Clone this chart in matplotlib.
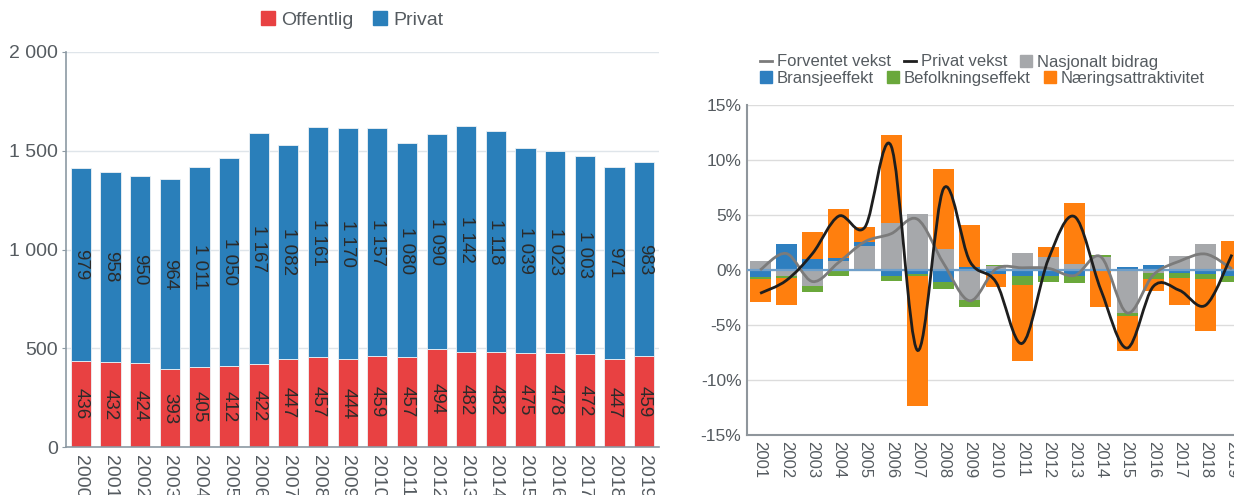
import numpy as np
import matplotlib
matplotlib.use("Agg")
import matplotlib.pyplot as plt
from matplotlib.path import Path
from matplotlib.patches import PathPatch, Patch
from matplotlib.lines import Line2D

plt.rcParams['font.family'] = ['Liberation Sans', 'DejaVu Sans']

# left chart: employment, public / private
years_left  = list(range(2000, 2020))
offentlig   = [436, 432, 424, 393, 405, 412, 422, 447, 457, 444,
               459, 457, 494, 482, 482, 475, 478, 472, 447, 459]
privat      = [979, 958, 950, 964, 1011, 1050, 1167, 1082, 1161, 1170,
               1157, 1080, 1090, 1142, 1118, 1039, 1023, 1003, 971, 983]

# right chart: growth decomposition (%)
years_right = list(range(2001, 2020))
nasjonalt   = [0.82, -0.55, -1.42, 0.85, 2.18, 4.3, 5.06, 1.88, -2.73, 0.38,
               1.58, 1.2, 0.55, 1.2, -3.94, -0.25, 1.3, 2.33, 0.1]
bransje     = [-0.67, 2.33, 0.97, 0.2, 0.36, -0.5, -0.36, -1.12, 0.3, -0.4,
               -0.55, -0.55, -0.55, -0.1, 0.3, 0.42, -0.25, -0.36, -0.55]
befolkning  = [-0.15, -0.2, -0.55, -0.55, 0.0, -0.5, -0.15, -0.6, -0.6, 0.12,
               -0.82, -0.5, -0.6, 0.15, -0.25, -0.6, -0.5, -0.5, -0.5]
naering     = [-2.12, -2.45, 2.5, 4.5, 1.33, 7.97, -11.85, 7.27, 3.8, -1.1,
               -6.9, 0.85, 5.5, -3.23, -3.2, -1.03, -2.45, -4.67, 2.5]
forventet   = [0.0, 1.5, -1.05, 0.7, 2.58, 3.3, 4.62, 0.6, -2.8, 0.1,
               0.2, 0.15, -0.5, 1.2, -3.9, -0.45, 0.8, 1.45, 0.1]
privat_vekst = [-2.12, -0.95, 1.5, 4.9, 3.9, 11.27, -7.3, 7.4, 0.8, -1.1,
                -6.67, 1.0, 4.85, -1.8, -7.1, -1.5, -1.85, -3.2, 1.4]

RED     = '#e84142'
BLUE_L  = '#2a7fba'
GREY_B  = '#a6a8ab'
BLUE_R  = '#2e7fc0'
GREEN   = '#6aa83b'
ORANGE  = '#ff7f0e'
TXT     = '#555b60'


def fmt_thousands(v):
    return "{:,}".format(int(v)).replace(",", " ")


def smooth_path(x, y, t=1.0 / 6):
    # catmull-rom through the points, as bezier segments
    pts = np.column_stack([x, y]).astype(float)
    verts = [pts[0]]
    codes = [Path.MOVETO]
    n = len(pts)
    for i in range(n - 1):
        p0 = pts[i - 1] if i > 0 else pts[i]
        p1 = pts[i]
        p2 = pts[i + 1]
        p3 = pts[i + 2] if i + 2 < n else pts[i + 1]
        c1 = p1 + (p2 - p0) * t
        c2 = p2 - (p3 - p1) * t
        verts += [c1, c2, p2]
        codes += [Path.CURVE4] * 3
    return Path(verts, codes)


fig = plt.figure(figsize=(12.34, 4.95), dpi=100)

# ---- left chart ----
ax1 = fig.add_axes([66 / 1234, 1 - 447 / 495, 593 / 1234, 395 / 495])
x = np.arange(len(years_left))
ax1.bar(x, offentlig, width=0.68, color=RED, edgecolor='#eef2f5', linewidth=0.6, zorder=2)
ax1.bar(x, privat, bottom=offentlig, width=0.68, color=BLUE_L, edgecolor='#eef2f5', linewidth=0.6, zorder=2)

for i in range(len(x)):
    ax1.text(x[i], offentlig[i] / 2, fmt_thousands(offentlig[i]), rotation=270,
             ha='center', va='center', fontsize=13.5, color='#2b2b2b', zorder=3)
    ax1.text(x[i], offentlig[i] + privat[i] / 2, fmt_thousands(privat[i]), rotation=270,
             ha='center', va='center', fontsize=13.5, color='#2b2b2b', zorder=3)

ax1.set_xlim(-0.5, len(x) - 0.5)
ax1.set_ylim(0, 2000)
ax1.set_yticks([0, 500, 1000, 1500, 2000])
ax1.set_yticklabels([fmt_thousands(v) for v in [0, 500, 1000, 1500, 2000]])
ax1.set_xticks(x)
ax1.set_xticklabels([str(y) for y in years_left], rotation=270)
ax1.tick_params(axis='x', length=0, pad=6, labelsize=14, labelcolor=TXT)
ax1.tick_params(axis='y', length=3, pad=3, labelsize=14, labelcolor=TXT, color='#8c99a3')
ax1.grid(axis='y', color='#dfe5ea', linewidth=1, zorder=0)
ax1.set_axisbelow(True)
for s in ['top', 'right']:
    ax1.spines[s].set_visible(False)
for s in ['left', 'bottom']:
    ax1.spines[s].set_color('#8c99a3')
    ax1.spines[s].set_linewidth(1.2)

fig.legend(handles=[Patch(color=RED), Patch(color=BLUE_L)], labels=['Offentlig', 'Privat'],
           loc='center', bbox_to_anchor=(352 / 1234, 1 - 20 / 495), ncol=2, frameon=False,
           fontsize=14, handlelength=0.75, handleheight=0.75, handletextpad=0.3,
           columnspacing=1.0, labelcolor=TXT, borderpad=0.1)

# ---- right chart ----
ax2 = fig.add_axes([747 / 1234, 1 - 435 / 495, 498 / 1234, 330 / 495])
xr = np.array(years_right)
pos = np.zeros(len(xr))
neg = np.zeros(len(xr))
for vals, col in [(nasjonalt, GREY_B), (bransje, BLUE_R), (befolkning, GREEN), (naering, ORANGE)]:
    vals = np.array(vals)
    bottoms = np.where(vals >= 0, pos, neg)
    ax2.bar(xr, vals, bottom=bottoms, width=0.8, color=col, zorder=2)
    pos += np.clip(vals, 0, None)
    neg += np.clip(vals, None, 0)

ax2.axhline(0, color='#6f9fca', linewidth=1.6, zorder=3)
ax2.add_patch(PathPatch(smooth_path(xr, forventet), facecolor='none', edgecolor='#7b7b7b',
                        linewidth=2, zorder=4))
ax2.add_patch(PathPatch(smooth_path(xr, privat_vekst), facecolor='none', edgecolor='#1e1e1e',
                        linewidth=2, zorder=5))

ax2.set_xlim(xr[0] - 0.5, xr[-1] + 0.5)
ax2.set_ylim(-15, 15)
ax2.set_yticks(range(-15, 16, 5))
ax2.set_yticklabels(["{}%".format(v) for v in range(-15, 16, 5)])
ax2.set_xticks(xr)
ax2.set_xticklabels([str(y) for y in years_right], rotation=270)
ax2.tick_params(axis='x', length=0, pad=4, labelsize=12, labelcolor=TXT)
ax2.tick_params(axis='y', length=0, pad=4, labelsize=12.5, labelcolor=TXT)
ax2.grid(axis='y', color='#dcdcdc', linewidth=1, zorder=0)
ax2.set_axisbelow(True)
for s in ['top', 'right']:
    ax2.spines[s].set_visible(False)
for s in ['left', 'bottom']:
    ax2.spines[s].set_color('#8f969c')
    ax2.spines[s].set_linewidth(1.5)

fig.legend(handles=[Line2D([], [], color='#7b7b7b', lw=2), Line2D([], [], color='#1e1e1e', lw=2),
                    Patch(color=GREY_B)],
           labels=['Forventet vekst', 'Privat vekst', 'Nasjonalt bidrag'],
           loc='center left', bbox_to_anchor=(760 / 1234, 1 - 62 / 495), ncol=3, frameon=False,
           fontsize=12, handlelength=0.7, handleheight=0.7, handletextpad=0.3,
           columnspacing=0.8, labelcolor=TXT, borderpad=0.0, borderaxespad=0)
fig.legend(handles=[Patch(color=BLUE_R), Patch(color=GREEN), Patch(color=ORANGE)],
           labels=['Bransjeeffekt', 'Befolkningseffekt', 'Næringsattraktivitet'],
           loc='center left', bbox_to_anchor=(760 / 1234, 1 - 78 / 495), ncol=3, frameon=False,
           fontsize=12, handlelength=0.7, handleheight=0.7, handletextpad=0.3,
           columnspacing=0.8, labelcolor=TXT, borderpad=0.0, borderaxespad=0)

fig.savefig("out.png", dpi=100)
